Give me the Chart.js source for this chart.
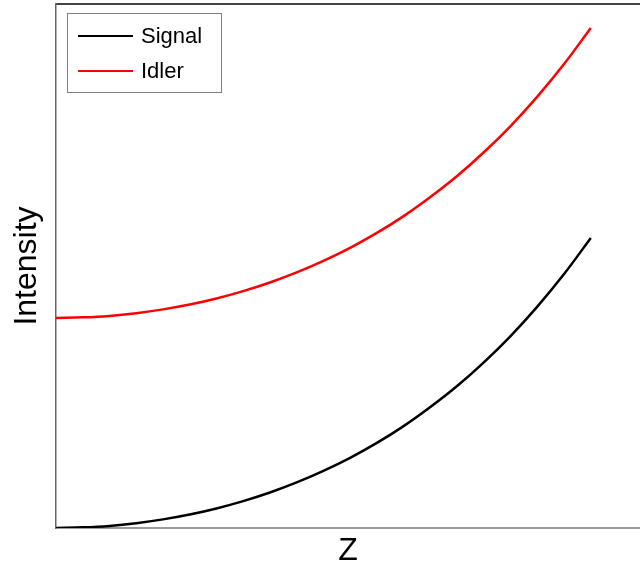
<!DOCTYPE html>
<html>
<head>
<meta charset="utf-8">
<script src="https://cdn.jsdelivr.net/npm/chart.js@4.4.0/dist/chart.umd.min.js"></script>
<style>
  html, body { margin: 0; padding: 0; background: #fff; overflow: hidden; }
</style>
</head>
<body>
<canvas id="myChart" width="640" height="567"></canvas>
<script>
// values
const zValues = [0, 0.05, 0.1, 0.15, 0.2, 0.25, 0.3, 0.35, 0.4, 0.45, 0.5,
                 0.55, 0.6, 0.65, 0.7, 0.75, 0.8, 0.85, 0.9, 0.95, 1.0];
const signalValues = [0, 0.003, 0.010, 0.023, 0.041, 0.064, 0.093, 0.128, 0.169, 0.217, 0.272,
                      0.334, 0.405, 0.485, 0.576, 0.676, 0.789, 0.914, 1.054, 1.209, 1.381];
const idlerValues = [1.000, 1.003, 1.010, 1.023, 1.041, 1.064, 1.093, 1.128, 1.169, 1.217, 1.272,
                     1.334, 1.405, 1.485, 1.576, 1.676, 1.789, 1.914, 2.054, 2.209, 2.381];
const seriesNames = ['Signal', 'Idler'];

const fontFamily = '"Liberation Sans", Arial, Helvetica, sans-serif';

function toPoints(ys) {
    return zValues.map((z, i) => ({ x: z, y: ys[i] }));
}

// Legend box in the top left corner of the plot
const boxLegend = {
    id: 'boxLegend',
    afterDraw(chart) {
        const ctx = chart.ctx;
        ctx.save();
        ctx.strokeStyle = '#808080';
        ctx.lineWidth = 1;
        ctx.strokeRect(67.5, 13.5, 154, 79);
        ctx.font = '22px ' + fontFamily;
        ctx.textBaseline = 'middle';
        ctx.fillStyle = '#000';
        chart.data.datasets.forEach((ds, i) => {
            const y = 36 + i * 35;
            ctx.strokeStyle = ds.borderColor;
            ctx.lineWidth = 2;
            ctx.beginPath();
            ctx.moveTo(78, y);
            ctx.lineTo(133, y);
            ctx.stroke();
            ctx.fillText(ds.label, 141, y + 1);
        });
        ctx.restore();
    }
};

const ctx = document.getElementById('myChart').getContext('2d');
const myChart = new Chart(ctx, {
    type: 'line',
    data: {
        datasets: [{
            label: seriesNames[0],
            data: toPoints(signalValues),
            borderColor: '#000000',
            borderWidth: 2.5,
            pointRadius: 0,
            cubicInterpolationMode: 'monotone'
        }, {
            label: seriesNames[1],
            data: toPoints(idlerValues),
            borderColor: '#ff0000',
            borderWidth: 2.5,
            pointRadius: 0,
            cubicInterpolationMode: 'monotone'
        }]
    },
    options: {
        responsive: false,
        animation: false,
        layout: { padding: 0 },
        plugins: {
            legend: { display: false },
            tooltip: { enabled: false }
        },
        scales: {
            x: {
                type: 'linear',
                min: 0,
                max: 1.092,
                grid: { display: false },
                ticks: { display: false },
                border: { color: '#999999', width: 2 },
                title: {
                    display: true,
                    text: 'Z',
                    color: '#000',
                    font: { family: fontFamily, size: 32, lineHeight: 1 },
                    padding: 0
                },
                afterFit: scale => { scale.height = 39; }
            },
            xTop: {
                type: 'linear',
                position: 'top',
                min: 0,
                max: 1,
                grid: { display: false },
                ticks: { display: false },
                border: { color: '#444444', width: 2 },
                afterFit: scale => { scale.height = 4; }
            },
            y: {
                min: 0,
                max: 2.495,
                grid: { display: false },
                ticks: { display: false },
                border: { color: '#666666', width: 1.5 },
                title: {
                    display: true,
                    text: 'Intensity',
                    color: '#000',
                    font: { family: fontFamily, size: 32, lineHeight: 1 },
                    padding: { top: 11, bottom: 0 }
                },
                afterFit: scale => { scale.width = 56; }
            }
        }
    },
    plugins: [boxLegend]
});
</script>
</body>
</html>
